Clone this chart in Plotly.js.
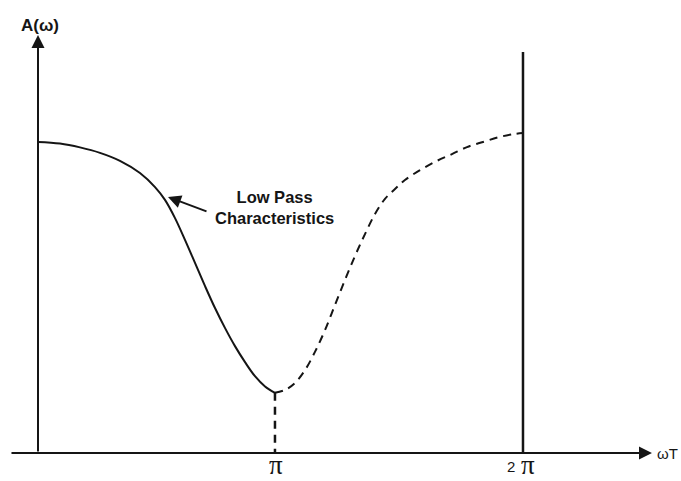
<!DOCTYPE html>
<html>
<head>
<meta charset="utf-8">
<script src="https://cdn.plot.ly/plotly-3.0.1.min.js"></script>
<style>html,body{margin:0;padding:0;background:#fff;}#chart{width:681px;height:481px;}</style>
</head>
<body>
<div id="chart"></div>
<script>
// Solid part of the amplitude response (ωT in radians, A relative)
const solidX = [0, 0.285, 0.544, 0.803, 1.062, 1.321, 1.516, 1.645, 1.775, 1.904, 2.034, 2.163, 2.293, 2.422, 2.552, 2.682, 2.811, 2.941, 3.070];
const solidY = [0.972, 0.967, 0.955, 0.938, 0.913, 0.875, 0.831, 0.791, 0.734, 0.666, 0.594, 0.522, 0.453, 0.391, 0.334, 0.284, 0.240, 0.208, 0.188];
// Dashed (mirrored) part
const dashX = [3.070, 3.200, 3.329, 3.459, 3.588, 3.718, 3.848, 3.977, 4.107, 4.236, 4.366, 4.495, 4.625, 4.754, 4.949, 5.169, 5.363, 5.558, 5.765, 5.985, 6.180, 6.283];
const dashY = [0.188, 0.197, 0.219, 0.259, 0.316, 0.384, 0.463, 0.541, 0.616, 0.684, 0.747, 0.794, 0.825, 0.853, 0.884, 0.913, 0.934, 0.956, 0.972, 0.988, 0.997, 1.000];
// Marker line at the minimum
const minX = [3.070, 3.070];
const minY = [0.188, 0];
// Tick positions and labels
const tickPos = [3.070, 6.283];
const tickText = ["π", "2π"];
const rightLineTop = 1.253;
const xAxisEnd = 7.954, xAxisStart = -0.363, yAxisEnd = 1.306;

const ink = "#151515";
const traces = [
  {x: solidX, y: solidY, mode: "lines", line: {color: ink, width: 2, shape: "spline", smoothing: 1}, hoverinfo: "skip"},
  {x: dashX, y: dashY, mode: "lines", line: {color: ink, width: 2, shape: "spline", smoothing: 1, dash: "8px,6px"}, hoverinfo: "skip"},
  {x: minX, y: minY, mode: "lines", line: {color: ink, width: 2.5, dash: "8px,6px"}, hoverinfo: "skip"},
  {x: [tickPos[1], tickPos[1]], y: [0, rightLineTop], mode: "lines", line: {color: ink, width: 2.5}, hoverinfo: "skip"}
];

const s = 2 * Math.PI / 485;
const yBottom = (453 - 481) / 320;
const sans = "Liberation Sans, Arial, sans-serif";
const serif = "Liberation Serif, serif";
const annotations = [
  // axes with arrows
  {x: xAxisEnd, y: 0, ax: xAxisStart, ay: 0, axref: "x", ayref: "y", xref: "x", yref: "y",
   text: "", showarrow: true, arrowhead: 2, arrowsize: 1.3, arrowwidth: 2, arrowcolor: ink},
  {x: 0, y: yAxisEnd, ax: 0, ay: 0, axref: "x", ayref: "y", xref: "x", yref: "y",
   text: "", showarrow: true, arrowhead: 2, arrowsize: 1.3, arrowwidth: 2, arrowcolor: ink},
  // axis labels
  {x: 0, y: yAxisEnd, xref: "x", yref: "y", yshift: 10, xshift: 2, text: "<b>A(ω)</b>", showarrow: false,
   font: {family: sans, size: 17, color: ink}},
  {x: xAxisEnd, y: 0, xref: "x", yref: "y", xanchor: "left", xshift: 3, text: "ωT", showarrow: false,
   font: {family: sans, size: 15, color: ink}},
  // tick labels
  {x: tickPos[0], y: yBottom, xref: "x", yref: "y", yanchor: "bottom", xshift: 1, text: tickText[0], showarrow: false,
   borderpad: 0, font: {family: serif, size: 27, color: ink}},
  {x: tickPos[1], y: yBottom, xref: "x", yref: "y", yanchor: "bottom", yshift: 5, xshift: -12, text: tickText[1].charAt(0), showarrow: false,
   borderpad: 0, font: {family: sans, size: 15, color: ink}},
  {x: tickPos[1], y: yBottom, xref: "x", yref: "y", yanchor: "bottom", xshift: 5, text: tickText[1].charAt(1), showarrow: false,
   borderpad: 0, font: {family: serif, size: 27, color: ink}},
  // callout
  {x: (168 - 38) * s, y: (453 - 197) / 320, ax: (208 - 38) * s, ay: (453 - 212) / 320, axref: "x", ayref: "y",
   xref: "x", yref: "y", text: "", showarrow: true, arrowhead: 2, arrowsize: 1.3, arrowwidth: 2, arrowcolor: ink},
  {x: (274 - 38) * s, y: (453 - 207) / 320, xref: "x", yref: "y", text: "<b>Low Pass<br>Characteristics</b>",
   showarrow: false, align: "center", font: {family: sans, size: 16.5, color: ink}}
];

const layout = {
  width: 681, height: 481,
  margin: {l: 0, r: 0, t: 0, b: 0},
  paper_bgcolor: "#fff", plot_bgcolor: "#fff",
  showlegend: false,
  xaxis: {visible: false, range: [-38 * s, (681 - 38) * s], fixedrange: true},
  yaxis: {visible: false, range: [yBottom, 453 / 320], fixedrange: true},
  annotations: annotations
};
Plotly.newPlot("chart", traces, layout, {staticPlot: true});
</script>
</body>
</html>
